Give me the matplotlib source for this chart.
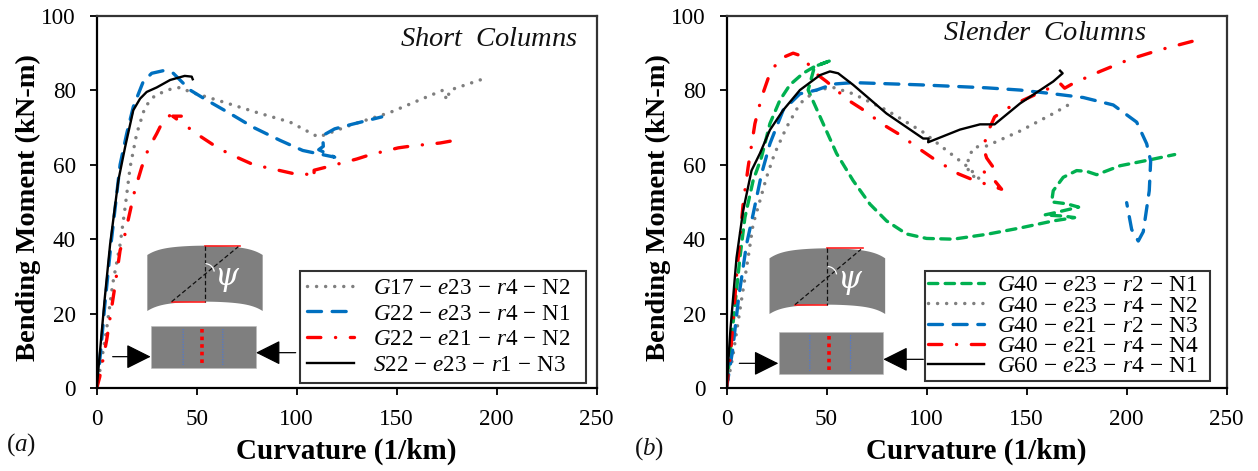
import numpy as np
import matplotlib
matplotlib.use("Agg")
import matplotlib.pyplot as plt
from matplotlib.patches import Polygon, Rectangle

plt.rcParams.update({
    "font.family": ["Liberation Serif", "DejaVu Serif"],
    "mathtext.fontset": "custom",
    "mathtext.rm": "Liberation Serif",
    "mathtext.it": "Liberation Serif:italic",
    "mathtext.bf": "Liberation Serif:bold",
})

# ---------- data: panel (a) ----------
a_gray_x = [0, 2, 5, 8, 11.7, 14.2, 16.7, 20, 24.2, 29.2, 36.7, 41.7, 46.7, 63.3, 80, 96.7, 110.8, 113, 128, 146.7, 163, 173.3, 175, 176.7, 193.3]
a_gray_y = [0, 6, 16, 28, 38.6, 48.5, 59.3, 68.3, 75.5, 78.6, 80.2, 80.7, 79.5, 76.8, 74, 71.4, 67.4, 67.8, 70.8, 74, 77.7, 80, 77.3, 80, 83]
a_blue_x = [0, 2, 4, 7, 11.7, 15, 18.3, 23.3, 27.5, 33.3, 38.3, 46.7, 55, 66.7, 78.3, 91.7, 103, 110, 119, 111, 113.3, 113, 119, 127.5, 142.5]
a_blue_y = [0, 10, 22, 38, 60, 68.3, 75.5, 82.3, 84.5, 85.2, 84.5, 80, 77.3, 73.7, 70, 66.5, 63.8, 63, 62, 64, 64.9, 67.8, 69.6, 70.8, 72.8]
a_red_x = [0, 1.5, 5, 9, 11.7, 14, 16, 19, 22.5, 25.8, 30, 32.5, 37.5, 40.8, 38, 42.5, 46.7, 58.3, 65.8, 78.3, 86.7, 100.8, 108.3, 108.7, 108.7, 116, 130, 137, 150.8, 157.5, 171.7, 179]
a_red_y = [0, 3, 13, 27, 37, 41, 45.8, 53, 59.3, 64.2, 68.3, 71, 73.7, 71.9, 73, 73, 69.4, 65.3, 63, 60, 59, 57.3, 57.5, 56.6, 58.5, 59.5, 61.5, 62.7, 64.5, 65, 65.8, 66.5]
a_black_x = [0, 2, 4, 6.7, 10.8, 14.2, 18.3, 21.7, 25, 30, 36.7, 44, 47.5, 48]
a_black_y = [0, 12, 24, 38.6, 55.7, 64.7, 74.6, 77.7, 79.5, 80.7, 82.7, 83.8, 83.6, 82.9]
a_labels = [r"$G17\,-\,e23\,-\,r4\,-\,\mathrm{N2}$", r"$G22\,-\,e23\,-\,r4\,-\,\mathrm{N1}$",
            r"$G22\,-\,e21\,-\,r4\,-\,\mathrm{N2}$", r"$S22\,-\,e23\,-\,r1\,-\,\mathrm{N3}$"]

# ---------- data: panel (b) ----------
b_green_x = [0, 3, 6.7, 9.2, 13.3, 17.5, 21.7, 26.7, 31.7, 38.3, 44, 52.5, 44, 40.8, 48.3, 55, 63.3, 71.7, 80, 90, 100, 113.3, 130, 146.7, 163.3, 174, 168.3, 159, 163.3, 176, 170, 162.5, 163.3, 168.3, 175, 180, 185, 196.7, 211.7, 224]
b_green_y = [0, 16, 35, 45.8, 55.7, 62, 71, 77.3, 81.4, 84.5, 86.3, 88, 86.3, 80, 71, 63, 55.7, 49.4, 44.9, 41.4, 40.2, 40, 41.3, 43, 44.9, 45.8, 46.2, 46.5, 47, 48.6, 49.5, 50, 53, 56.6, 58.4, 58.2, 57.3, 59.7, 61.3, 62.7]
b_gray_x = [0, 3, 7, 10.8, 13.3, 16.7, 20, 24, 30, 36.7, 45, 53.3, 63.3, 80, 98.3, 110, 120.8, 126.7, 124, 120.8, 120.8, 124, 130, 146.7, 163.3, 170.8]
b_gray_y = [0, 8, 22, 35, 44, 50.3, 56.6, 62.9, 70, 76.4, 80, 80.7, 79, 74.6, 68.7, 63.8, 59.3, 56, 56.6, 58.4, 62, 64.7, 65, 69, 73.7, 76]
b_blue_x = [0, 3, 6, 10, 13.3, 17.5, 21.7, 28.3, 36.7, 45, 53.3, 63.3, 96.7, 130, 146.7, 163.3, 178.3, 193.3, 205, 210, 212, 211.3, 208.3, 205.8, 202.5, 200]
b_blue_y = [0, 10, 24, 38.6, 46.7, 57.5, 65.6, 74.6, 79, 80, 81.6, 82, 81.4, 80.6, 80, 79, 78, 76, 71.4, 65.6, 61, 53, 42, 39.5, 42.6, 49.8]
b_red_x = [0, 2, 5, 8.3, 10.8, 14.2, 17.5, 21.7, 26.7, 33.3, 38.3, 43.3, 50, 60.8, 67.5, 79, 85.8, 97.5, 104, 116, 123.3, 137.5, 134, 128, 133.3, 130, 128.3, 131, 134, 140, 148.3, 166.7, 169, 173.3, 186.7, 201.7, 216.7, 235.8]
b_red_y = [0, 9, 30, 49.4, 59.3, 71, 78, 84.5, 88.4, 89.9, 89, 85, 82.3, 77.3, 75, 70.5, 68.3, 63.8, 61.4, 57.5, 55.9, 53.4, 55.7, 58.4, 59.3, 61.8, 64.7, 69.2, 72.8, 75, 77.3, 81.8, 80.5, 81.8, 85, 88.3, 90.8, 93.5]
b_black_x = [0, 2, 5, 8.3, 12.5, 16.7, 21.7, 28.3, 36.7, 46.7, 51.7, 55.8, 63.3, 80, 98.3, 101, 100.8, 116.7, 126.7, 134, 146.7, 163.3, 168, 166.7]
b_black_y = [0, 16, 35, 47.6, 58.4, 63, 69.3, 74.6, 80, 84, 85, 84.5, 81.4, 73.7, 67, 67, 66, 69.4, 70.8, 70.8, 76.4, 82.3, 84.5, 85.2]
b_labels = [r"$G40\,-\,e23\,-\,r2\,-\,\mathrm{N1}$", r"$G40\,-\,e23\,-\,r4\,-\,\mathrm{N2}$",
            r"$G40\,-\,e21\,-\,r2\,-\,\mathrm{N3}$", r"$G40\,-\,e21\,-\,r4\,-\,\mathrm{N4}$",
            r"$G60\,-\,e23\,-\,r4\,-\,\mathrm{N1}$"]

x_ticks = [0, 50, 100, 150, 200, 250]
y_ticks = [0, 20, 40, 60, 80, 100]

GRAY, BLUE, RED, GREEN = "#7F7F7F", "#0070C0", "#FF0000", "#00B050"
DOT = dict(color=GRAY, lw=2.5, ls=(0, (0.01, 2.6)), dash_capstyle="round")
DASH = dict(color=BLUE, lw=2.4, ls=(0, (4.2, 3.2)), dash_capstyle="round")
DASHDOT = dict(color=RED, lw=2.4, ls=(0, (4, 4.4, 0.05, 4.4)), dash_capstyle="round")
GRN = dict(color=GREEN, lw=2.4, ls=(0, (2.8, 2.2)), dash_capstyle="round")
SOLID = dict(color="black", lw=1.7)

W, H = 1258, 471
fig = plt.figure(figsize=(W / 100, H / 100), dpi=100, facecolor="white")


def make_axes(l, r, t, b):
    ax = fig.add_axes([l / W, 1 - b / H, (r - l) / W, (b - t) / H])
    ax.set_xlim(0, 250)
    ax.set_ylim(0, 100)
    ax.set_xticks(x_ticks)
    ax.set_yticks(y_ticks)
    ax.tick_params(labelsize=16.7, length=5, width=1.4, pad=10, color="#111111")
    for s in ("left", "bottom"):
        ax.spines[s].set_linewidth(1.6)
    for s in ("top", "right"):
        ax.spines[s].set_linewidth(1.6)
        ax.spines[s].set_color("#333333")
    ax.set_xlabel("Curvature (1/km)", fontsize=21, fontweight="bold", labelpad=5.5)
    ax.set_ylabel("Bending Moment (kN-m)", fontsize=20.5, fontweight="bold", labelpad=0, y=0.484)
    return ax


ax1 = make_axes(96.7, 596.7, 15.5, 388.3)
ax1.plot(a_gray_x, a_gray_y, label=a_labels[0], **DOT)
ax1.plot(a_blue_x, a_blue_y, label=a_labels[1], **DASH)
ax1.plot(a_red_x, a_red_y, label=a_labels[2], **DASHDOT)
ax1.plot(a_black_x, a_black_y, label=a_labels[3], **SOLID)

ax2 = make_axes(726.5, 1226.7, 15.5, 388.3)
ax2.plot(b_green_x, b_green_y, label=b_labels[0], **GRN)
ax2.plot(b_gray_x, b_gray_y, label=b_labels[1], **DOT)
ax2.plot(b_blue_x, b_blue_y, label=b_labels[2], **DASH)
ax2.plot(b_red_x, b_red_y, label=b_labels[3], **DASHDOT)
ax2.plot(b_black_x, b_black_y, label=b_labels[4], **SOLID)


def legend(ax, l, r, t, b, fs, spacing, pad, hlen, tpad):
    inv = ax.transAxes.inverted()
    x0, y0 = inv.transform((l * 1.0, H - b))
    x1, y1 = inv.transform((r * 1.0, H - t))
    leg = ax.legend(loc="lower left", bbox_to_anchor=(x0, y0, x1 - x0, y1 - y0),
                    mode="expand", borderaxespad=0, fontsize=fs, fancybox=False,
                    framealpha=1, edgecolor="#333333", handlelength=hlen,
                    handletextpad=tpad, labelspacing=spacing, borderpad=pad)
    leg.get_frame().set_linewidth(1.5)
    return leg


legend(ax1, 299.7, 586, 268.5, 382.5, 16.6, 0.19, 0.3, 2.05, 0.85)
legend(ax2, 924.5, 1210, 268.5, 381, 16.8, -0.05, 0.17, 2.4, 0.52)

# ---------- schematic overlay, in picture pixels ----------
ov = fig.add_axes([0, 0, 1, 1], zorder=5)
ov.set_xlim(0, W)
ov.set_ylim(H, 0)
ov.axis("off")
ov.patch.set_alpha(0)

SCHEM = "#7F7F7F"


def schematic(ox, oy, xl, xc, xr, ytop, yedge, ybedge, ybc, xrt, xlb,
              rl, rr, rt, rb, bl1, bl2, redx, redt, redb, ya, xa0, xa1, yb, xb0, xb1):
    def px(zx):
        return ox + zx / 3

    def py(zy):
        return oy + zy / 3

    u = np.linspace(-1, 1, 80)
    xs = xc + u * (xr - xl) / 2
    shape = 0.5 * u ** 2 + 0.5 * u ** 6
    top = ytop + (yedge - ytop) * shape
    bot = ybc + (ybedge - ybc) * shape
    pts = np.r_[np.c_[px(xs), py(top)], np.c_[px(xs[::-1]), py(bot[::-1])]]
    ov.add_patch(Polygon(pts, closed=True, fc=SCHEM, ec="none"))
    ov.plot([px(xc), px(xrt)], [py(ytop), py(ytop)], color="#FF2020", lw=1.2)
    ov.plot([px(xlb), px(xc)], [py(ybc), py(ybc)], color="#FF2020", lw=1.2)
    ov.plot([px(xc), px(xc)], [py(ytop), py(ybc)], color="#111111", lw=0.9, ls=(0, (3.5, 2)))
    ov.plot([px(xlb), px(xrt - 5)], [py(ybc), py(ytop + 3)], color="#111111", lw=0.9, ls=(0, (3.5, 2)))
    t = np.linspace(-0.2, 1.05, 20)
    ymid = (ytop + ybc) / 2
    ov.plot(px(xc + 28 * np.sin(t + 0.3)), py(ymid - 2 - 28 * np.cos(t + 0.3)) + 0, color="white", lw=0.9)
    ov.text(px(xc + 67), py(ymid + 15), r"$\psi$", color="white", fontsize=22,
            ha="center", va="center", family=["DejaVu Serif"], math_fontfamily="dejavuserif")
    ov.add_patch(Rectangle((px(rl), py(rt)), (rr - rl) / 3, (rb - rt) / 3, fc=SCHEM, ec="#BBBBBB", lw=0.4))
    for b in (bl1, bl2):
        ov.plot([px(b) + 0.5, px(b) + 0.5], [py(rt + 10), py(rb - 10)], color="#4F78D0", lw=0.9,
                ls=(0, (1, 1)), snap=False)
    ov.plot([px(redx), px(redx)], [py(redt), py(redb)], color="#FF0000", lw=2.6, ls=(0, (1.0, 1.1)))
    for yy, a0, a1 in ((ya, xa0, xa1), (yb, xb0, xb1)):
        ov.annotate("", xy=(px(a1), py(yy)), xytext=(px(a0), py(yy)),
                    arrowprops=dict(arrowstyle="-|>,head_length=1.1,head_width=0.55",
                                    color="black", lw=0.9, shrinkA=0, shrinkB=0, mutation_scale=14))


schematic(90, 230, 172, 345, 518, 47, 75, 243, 215, 450, 245,
          184, 497, 287, 415, 278, 397, 335, 298, 403, 380, 68, 182, 368, 617, 498)
schematic(720, 230, 150, 322, 497, 55, 85, 252, 224, 428, 225,
          177, 488, 305, 433, 268, 390, 327, 318, 422, 400, 58, 175, 388, 610, 490)

# ---------- annotations ----------
ov.text(489, 40, r"$Short\ \ Columns$", fontsize=20.5, ha="center", va="center", color="#111111")
ov.text(1044.5, 34, r"$Slender\ \ Columns$", fontsize=20.5, ha="center", va="center", color="#111111")
ov.text(21, 445, r"$(a)$", fontsize=18, ha="center", va="center", color="#111111")
ov.text(649, 449, r"$(b)$", fontsize=18, ha="center", va="center", color="#111111")

fig.savefig("out.png", dpi=100)
